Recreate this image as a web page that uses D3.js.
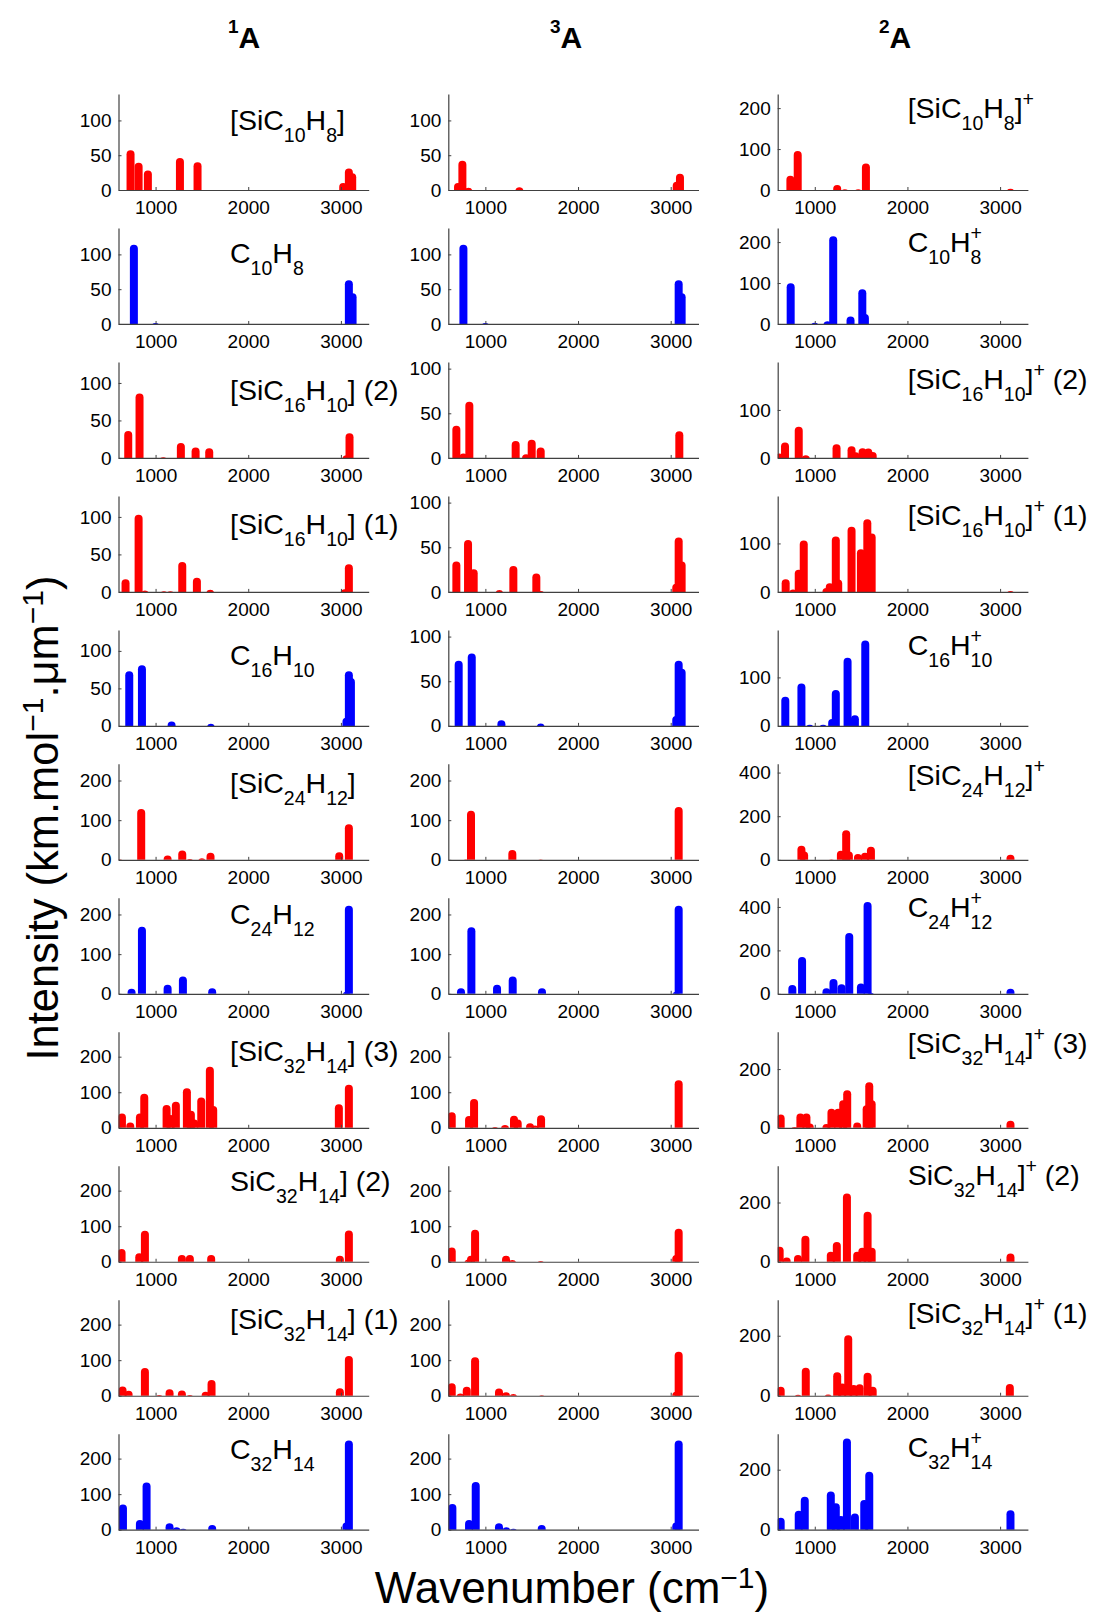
<!DOCTYPE html>
<html><head><meta charset="utf-8">
<script src="https://cdn.jsdelivr.net/npm/d3@7"></script>
<style>
body{margin:0;background:#fff}
svg{display:block}
text{font-family:"Liberation Sans",Arial,Helvetica,sans-serif;fill:#000}
</style>
</head><body>
<svg id="chart" width="1093" height="1614"></svg>
<script>
// ---------------- DATA ----------------
// x axis
const wnDomain = [600, 3300];
const xTicks = [1000, 2000, 3000];
// column (electronic state) titles
const stateNumbers = ["1", "3", "2"];
const stateLetter = "A";
// molecule kind per row (Si-complex red, bare PAH blue)
const rowKinds = ["Si","PAH","Si","Si","PAH","Si","PAH","Si","Si","Si","PAH"];
// panel labels
const labels1A = ["[SiC_{10}H_{8}]","C_{10}H_{8}","[SiC_{16}H_{10}] (2)","[SiC_{16}H_{10}] (1)","C_{16}H_{10}",
  "[SiC_{24}H_{12}]","C_{24}H_{12}","[SiC_{32}H_{14}] (3)","SiC_{32}H_{14}] (2)","[SiC_{32}H_{14}] (1)","C_{32}H_{14}"];
const labels3A = ["","","","","","","","","","",""];
const labels2A = ["[SiC_{10}H_{8}]^{+}","C_{10}H^{+}_{8}","[SiC_{16}H_{10}]^{+} (2)","[SiC_{16}H_{10}]^{+} (1)","C_{16}H^{+}_{10}",
  "[SiC_{24}H_{12}]^{+}","C_{24}H^{+}_{12}","[SiC_{32}H_{14}]^{+} (3)","SiC_{32}H_{14}]^{+} (2)","[SiC_{32}H_{14}]^{+} (1)","C_{32}H^{+}_{14}"];
// y-axis upper limits and ticks
const yMax1A = [138,138,128,128,128,242,242,270,270,270,270];
const yMax3A = [138,138,107.5,107.5,107.5,242,242,270,270,270,270];
const yMax2A = [234.5,234.5,200,198,198,440,442,327,324,320,320];
const yTicks1A = [[0,50,100],[0,50,100],[0,50,100],[0,50,100],[0,50,100],[0,100,200],[0,100,200],[0,100,200],[0,100,200],[0,100,200],[0,100,200]];
const yTicks3A = yTicks1A;
const yTicks2A = [[0,100,200],[0,100,200],[0,100],[0,100],[0,100],[0,200,400],[0,200,400],[0,200],[0,200],[0,200],[0,200]];

// peaks: [wavenumber cm-1, intensity km/mol/um]
// ---- 1A ----
const SiC10H8_1A = [[730,57],[817,39],[917,28],[1263,46],[1453,40],[3025,10],[3086,31],[3122,24]];
const C10H8_1A = [[766,114],[1000,1.5],[3086,63],[3126,44]];
const SiC16H10_2_1A = [[705,36],[827,86],[1083,1],[1273,20],[1432,14],[1579,13],[3060,3.5],[3093,33]];
const SiC16H10_1_1A = [[676,17],[817,103],[885,2],[1090,1],[1160,1],[1288,40],[1446,19],[1590,3],[3040,3.5],[3086,37]];
const C16H10_1A = [[716,73],[853,81],[1173,6],[1597,2.7],[3060,11],[3086,73],[3108,64]];
const SiC24H12_1A = [[615,1],[845,128],[1130,11],[1288,23.5],[1370,2],[1500,4],[1593,17.6],[2982,19],[3086,90]];
const C24H12_1A = [[741,13],[853,169],[1130,23],[1295,43.5],[1611,14],[3060,5],[3086,222]];
const SiC32H14_3_1A = [[637,40],[727,15],[831,40],[878,96],[1119,64],[1162,36],[1219,73],[1338,111],[1381,48],[1417,23],[1493,85],[1586,172],[1622,61],[2978,66],[3086,121]];
const SiC32H14_2_1A = [[633,36],[824,24],[885,87],[1284,19],[1370,19],[1600,19],[2989,17],[3086,88]];
const SiC32H14_1_1A = [[644,26],[709,14],[885,78],[1040,2],[1151,18],[1284,15],[1370,2],[1540,11],[1604,44],[2989,21],[3086,112]];
const C32H14_1A = [[648,71],[831,27],[903,133],[1151,18],[1227,6.6],[1298,3],[1611,13],[3060,20],[3086,251]];
// ---- 3A ----
const SiC10H8_3A = [[705,10],[752,42],[817,3.4],[1367,3.8],[3065,12],[3100,23.5]];
const C10H8_3A = [[763,114],[1000,1.5],[3086,63],[3118,44]];
const SiC16H10_2_3A = [[687,36],[763,5],[827,63],[1327,19],[1439,4],[1500,20.5],[1597,11.6],[3093,30]];
const SiC16H10_1_3A = [[687,34],[813,58],[874,25.5],[1151,2],[1302,29],[1550,20.6],[1597,1],[3060,9],[3086,61],[3118,34]];
const C16H10_3A = [[712,73],[853,81],[1173,6.4],[1597,2.6],[3060,11],[3086,73],[3118,64]];
const SiC24H12_3A = [[790,1],[845,124],[1291,25],[1597,1],[3086,133]];
const C24H12_3A = [[737,14],[849,168],[1126,23],[1295,43.5],[1611,14],[3060,5],[3086,222]];
const SiC32H14_3_3A = [[637,44],[824,33],[878,81],[1104,2],[1212,7.5],[1309,34],[1349,23],[1482,13],[1536,6.6],[1601,35],[3086,134]];
const SiC32H14_2_3A = [[637,40],[817,6.6],[845,17],[889,90],[1223,17],[1291,5],[1597,2],[3060,19],[3086,92.5]];
const SiC32H14_1_3A = [[637,35],[730,6.6],[799,25.5],[889,108.5],[1147,20],[1223,10],[1302,5],[1608,1],[3060,11],[3086,124]];
const C32H14_3A = [[644,72],[824,27],[896,134],[1147,18],[1227,6.6],[1302,3],[1608,13],[3060,20],[3086,251]];
// ---- 2A (cations) ----
const SiC10H8_2A = [[737,35],[816,95.5],[1242,12],[1325,2],[1469,2],[1552,65],[3112,3.3]];
const C10H8_2A = [[740,99.6],[1000,3],[1137,6.5],[1199,214],[1386,18],[1513,85],[1541,24.5]];
const SiC16H10_2_2A = [[614,9],[679,32],[827,65],[903,5.6],[1235,28.7],[1397,24.5],[1440,12],[1516,20],[1578,19.6],[1625,12.6]];
const SiC16H10_1_2A = [[686,26],[765,5],[827,45.5],[881,106],[1126,8],[1162,18],[1227,114.5],[1253,25.5],[1397,134.5],[1498,88],[1567,150],[1614,120.7],[3112,2]];
const C16H10_2A = [[682,60],[856,87.6],[946,2.5],[1090,2.5],[1188,14],[1227,74],[1354,140.7],[1433,22],[1545,176]];
const SiC24H12_2A = [[856,65],[885,38],[1180,2],[1282,42],[1339,136],[1368,38],[1466,27],[1542,33],[1606,60.6],[3112,23]];
const C24H12_2A = [[758,41],[863,170],[1126,26],[1202,68],[1289,44],[1372,280],[1498,48],[1570,423],[1603,5],[3112,23]];
const SiC32H14_3_2A = [[632,45.5],[783,3],[845,49],[910,49],[946,15],[1126,12.5],[1180,65],[1253,65],[1307,94],[1350,128],[1458,18],[1560,77],[1588,155],[1614,94],[3112,24]];
const SiC32H14_2_2A = [[621,50.5],[697,14.6],[819,22.5],[899,87.6],[1173,33.7],[1238,67],[1347,230],[1458,33.7],[1513,47],[1570,168.5],[1614,47],[3112,28]];
const SiC32H14_1_2A = [[632,30],[820,3],[903,93],[1144,4],[1242,78],[1296,41],[1361,202],[1419,35.5],[1484,38],[1570,77],[1625,30],[3105,39]];
const C32H14_2A = [[632,40],[827,63],[892,110],[1173,127],[1227,88],[1282,45.5],[1347,304],[1433,54],[1534,99],[1588,193],[3112,65]];

const data1A = [SiC10H8_1A,C10H8_1A,SiC16H10_2_1A,SiC16H10_1_1A,C16H10_1A,SiC24H12_1A,C24H12_1A,SiC32H14_3_1A,SiC32H14_2_1A,SiC32H14_1_1A,C32H14_1A];
const data3A = [SiC10H8_3A,C10H8_3A,SiC16H10_2_3A,SiC16H10_1_3A,C16H10_3A,SiC24H12_3A,C24H12_3A,SiC32H14_3_3A,SiC32H14_2_3A,SiC32H14_1_3A,C32H14_3A];
const data2A = [SiC10H8_2A,C10H8_2A,SiC16H10_2_2A,SiC16H10_1_2A,C16H10_2A,SiC24H12_2A,C24H12_2A,SiC32H14_3_2A,SiC32H14_2_2A,SiC32H14_1_2A,C32H14_2A];

// ---------------- LAYOUT ----------------
const colLeft = [118.5, 448.3, 777.7];
const plotW = 250.2, plotH = 96, firstBottom = 190, rowStep = 133.97;
const titleCenter = [244, 566, 895];
const labelX = [230, 0, 907.7];
const labelOffset = [
  [36,35.3,38.3,38.3,35.3,29.3,26.3,29.3,25.3,29.6,25.6],
  [0,0,0,0,0,0,0,0,0,0,0],
  [24.3,23.7,26.6,28.6,25.3,21,18.7,21.6,19.3,23.6,23]
];
const barWidth = 8, capR = barWidth / 2;
const kindColor = {Si: "#ff0000", PAH: "#0000ff"};
const axisColor = "#404040";
const FONT = '"Liberation Sans", Arial, Helvetica, sans-serif';

const svg = d3.select("#chart");

function richText(sel, str, F, f, subDy, supDy) {
  const re = /\^\{([^}]*)\}_\{([^}]*)\}|_\{([^}]*)\}|\^\{([^}]*)\}|([^_^]+)/g;
  let m, cur = 0;
  while ((m = re.exec(str))) {
    if (m[1] !== undefined) {
      const sp = sel.append("tspan").attr("font-size", f).attr("dy", supDy - cur).text(m[1]);
      const w = sp.node().getComputedTextLength();
      sel.append("tspan").attr("font-size", f).attr("dx", -w).attr("dy", subDy - supDy).text(m[2]);
      cur = subDy;
    } else if (m[3] !== undefined) {
      sel.append("tspan").attr("font-size", f).attr("dy", subDy - cur).text(m[3]);
      cur = subDy;
    } else if (m[4] !== undefined) {
      sel.append("tspan").attr("font-size", f).attr("dy", supDy - cur).text(m[4]);
      cur = supDy;
    } else {
      sel.append("tspan").attr("font-size", F).attr("dy", -cur).text(m[5]);
      cur = 0;
    }
  }
}

function styleAxis(g) {
  g.attr("font-family", FONT).attr("font-size", 19).attr("color", "#000");
  g.select(".domain").attr("stroke", axisColor).attr("stroke-width", 1.2);
  g.selectAll(".tick line").attr("stroke", axisColor).attr("stroke-width", 1);
}

const columns = [
  {data: data1A, yMax: yMax1A, ticks: yTicks1A, labels: labels1A},
  {data: data3A, yMax: yMax3A, ticks: yTicks3A, labels: labels3A},
  {data: data2A, yMax: yMax2A, ticks: yTicks2A, labels: labels2A}
];

columns.forEach((col, c) => {
  const left = colLeft[c];
  const x = d3.scaleLinear().domain(wnDomain).range([left, left + plotW]);

  // column title
  const t = svg.append("text").attr("x", titleCenter[c]).attr("y", 48)
    .attr("text-anchor", "middle").attr("font-weight", "bold");
  richText(t, "^{" + stateNumbers[c] + "}" + stateLetter, 30, 19, 0, -15);

  col.data.forEach((peaks, r) => {
    const bottom = firstBottom + r * rowStep, top = bottom - plotH;
    const y = d3.scaleLinear().domain([0, col.yMax[r]]).range([bottom, top]);
    const id = `clip-${c}-${r}`;
    svg.append("clipPath").attr("id", id).append("rect")
      .attr("x", left).attr("y", top - 15).attr("width", plotW).attr("height", plotH + 15);

    svg.append("g").attr("clip-path", `url(#${id})`)
      .selectAll("line").data(peaks).join("line")
      .attr("x1", d => x(d[0])).attr("x2", d => x(d[0]))
      .attr("y1", bottom + capR + 2)
      .attr("y2", d => y(d[1]) + capR)
      .attr("stroke", kindColor[rowKinds[r]])
      .attr("stroke-width", barWidth)
      .attr("stroke-linecap", "round");

    svg.append("g").attr("transform", `translate(0,${bottom})`)
      .call(d3.axisBottom(x).tickValues(xTicks).tickFormat(d3.format("d"))
        .tickSizeInner(-3).tickSizeOuter(0).tickPadding(11))
      .call(styleAxis);
    svg.append("g").attr("transform", `translate(${left},0)`)
      .call(d3.axisLeft(y).tickValues(col.ticks[r]).tickFormat(d3.format("d"))
        .tickSizeInner(-3).tickSizeOuter(0).tickPadding(7))
      .call(styleAxis);

    if (col.labels[r]) {
      const lt = svg.append("text").attr("x", labelX[c]).attr("y", top + labelOffset[c][r]);
      richText(lt, col.labels[r], 28.5, 19.5, 12, -12);
    }
  });
});

// axis titles
const yl = svg.append("text").attr("transform", "translate(58,818) rotate(-90)").attr("text-anchor", "middle");
richText(yl, "Intensity (km.mol^{−1}.μm^{−1})", 43.5, 30, 0, -15);
const xl = svg.append("text").attr("x", 572).attr("y", 1603).attr("text-anchor", "middle");
richText(xl, "Wavenumber (cm^{−1})", 44, 30, 0, -15);
</script>
</body></html>
